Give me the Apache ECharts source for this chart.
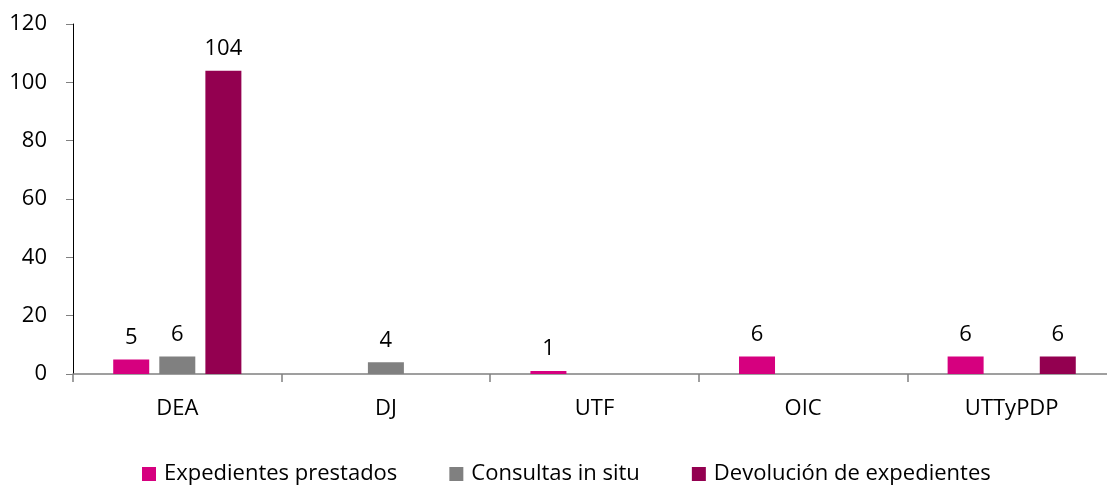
<!DOCTYPE html>
<html>
<head>
<meta charset="utf-8">
<script src="https://cdn.jsdelivr.net/npm/echarts@6/dist/echarts.min.js"></script>
<style>
  html, body { margin: 0; padding: 0; background: #ffffff; }
  #chart { width: 1107px; height: 487px; }
</style>
</head>
<body>
<div id="chart"></div>
<script>
// Unidades y movimientos de expedientes
const categories = ['DEA', 'DJ', 'UTF', 'OIC', 'UTTyPDP'];
const seriesNames = ['Expedientes prestados', 'Consultas in situ', 'Devolución de expedientes'];
const prestados = [5, null, 1, 6, 6];
const consultas = [6, 4, null, null, null];
const devolucion = [104, null, null, null, 6];
const yTicks = { min: 0, max: 120, interval: 20 };

const colors = ['#D6007F', '#808080', '#930050'];
const FONT = '"Open Sans", "Noto Sans", sans-serif';
const FS = 22;

function barSeries(name, data, color) {
  return {
    name: name,
    type: 'bar',
    data: data,
    barWidth: 36,
    barGap: '28%',
    itemStyle: { color: color },
    label: {
      show: true,
      position: 'top',
      distance: 11,
      color: '#000000',
      fontSize: FS,
      fontFamily: FONT
    }
  };
}

const chart = echarts.init(document.getElementById('chart'), null, { renderer: 'canvas' });
chart.setOption({
  animation: false,
  backgroundColor: '#ffffff',
  grid: { left: 73, top: 24, width: 1043, height: 350, containLabel: false, outerBoundsMode: 'none' },
  legend: {
    data: seriesNames,
    left: 137,
    top: 458,
    itemWidth: 14,
    itemHeight: 14,
    itemGap: 52,
    icon: 'rect',
    textStyle: { fontSize: FS, fontFamily: FONT, color: '#000000', padding: [0, 0, 0, 3] }
  },
  xAxis: {
    type: 'category',
    data: categories,
    axisLine: { lineStyle: { color: '#808080', width: 1.5 } },
    axisTick: { show: true, length: 8, alignWithLabel: false, lineStyle: { color: '#808080', width: 1.5 } },
    axisLabel: { fontSize: FS, fontFamily: FONT, color: '#000000', margin: 24 }
  },
  yAxis: {
    type: 'value',
    min: yTicks.min,
    max: yTicks.max,
    interval: yTicks.interval,
    splitLine: { show: false },
    axisLine: { show: true, lineStyle: { color: '#000000', width: 1 } },
    axisTick: { show: true, length: 7, inside: false, lineStyle: { color: '#808080', width: 1 } },
    axisLabel: { fontSize: FS, fontFamily: FONT, color: '#000000', margin: 26 }
  },
  series: [
    barSeries(seriesNames[0], prestados, colors[0]),
    barSeries(seriesNames[1], consultas, colors[1]),
    barSeries(seriesNames[2], devolucion, colors[2])
  ]
});
</script>
</body>
</html>
